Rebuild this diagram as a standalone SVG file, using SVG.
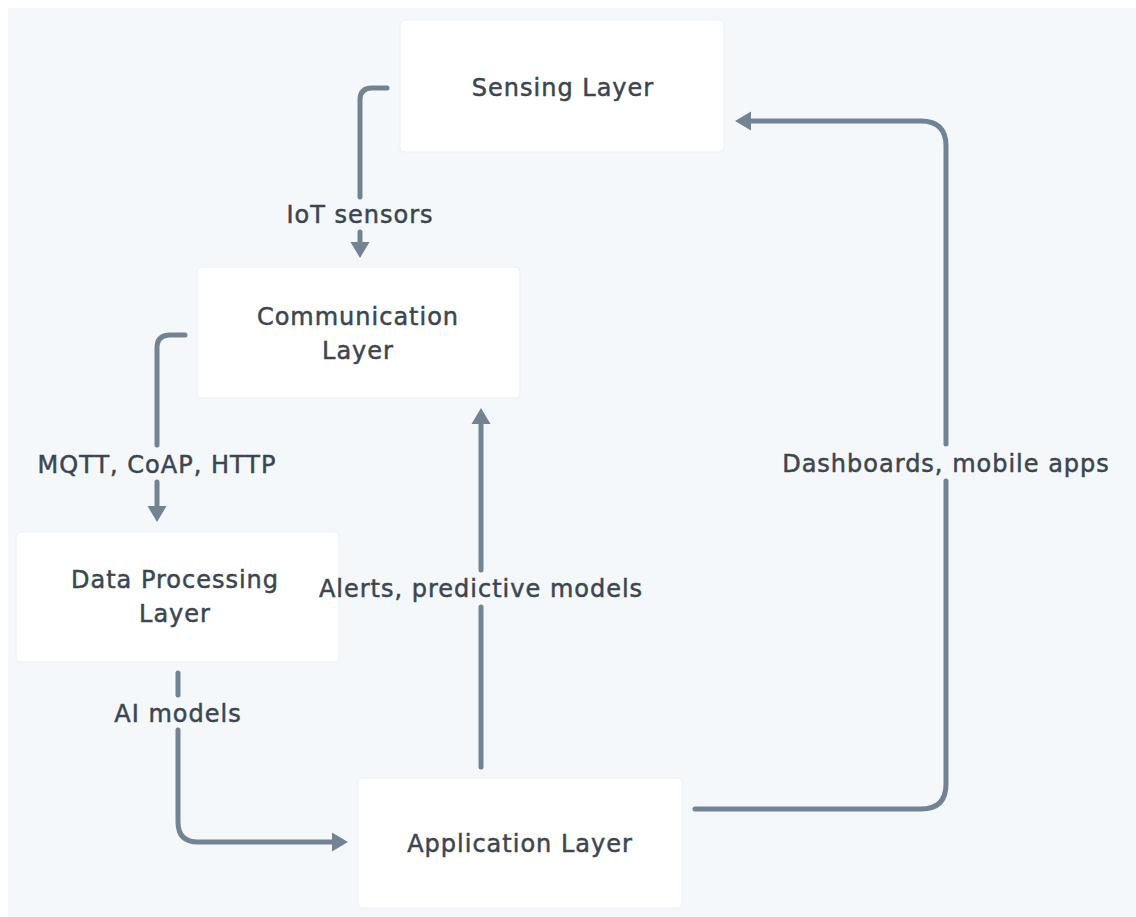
<svg xmlns="http://www.w3.org/2000/svg" width="1136" height="917" viewBox="0 0 1136 917">
<style>
.node rect{fill:#ffffff;stroke:#edf0f3;stroke-width:1}
text{font-family:"DejaVu Sans","Liberation Sans",sans-serif;font-size:24px;letter-spacing:1px;fill:#3b4651;text-anchor:middle;stroke:#3b4651;stroke-width:0.5}
.edge{fill:none;stroke:#728394;stroke-width:5;stroke-linecap:round;stroke-linejoin:round}
</style>
<defs>
<marker id="ah" markerUnits="userSpaceOnUse" markerWidth="18" markerHeight="20" refX="0" refY="10" orient="auto" overflow="visible">
<path d="M0,0.5 L16,10 L0,19.5 Z" fill="#728394"/>
</marker>
</defs>
<rect x="0" y="0" width="1136" height="917" fill="#ffffff"/>
<rect x="8" y="8" width="1128" height="909" fill="#f5f8fb"/>
<g id="sensing" class="node">
<rect x="400" y="20" width="324" height="132" rx="5"/>
<text x="563" y="96">Sensing Layer</text>
</g>
<g id="communication" class="node">
<rect x="197" y="267" width="323" height="131" rx="5"/>
<text x="358" y="325">Communication</text>
<text x="358" y="359">Layer</text>
</g>
<g id="dataprocessing" class="node">
<rect x="16" y="532" width="323" height="130" rx="5"/>
<text x="175" y="588">Data Processing</text>
<text x="175" y="622">Layer</text>
</g>
<g id="application" class="node">
<rect x="358" y="778" width="324" height="130" rx="5"/>
<text x="520" y="852">Application Layer</text>
</g>
<g id="connectors">
<path class="edge" d="M387,88 H372 Q360,88 360,100 V197"/>
<path class="edge" d="M360,232 V242" marker-end="url(#ah)"/>
<path class="edge" d="M185,335 H170 Q157,335 157,348 V445"/>
<path class="edge" d="M157,482 V506" marker-end="url(#ah)"/>
<path class="edge" d="M178,673 V695"/>
<path class="edge" d="M178,730 V822 Q178,842 198,842 H332" marker-end="url(#ah)"/>
<path class="edge" d="M481,767 V607"/>
<path class="edge" d="M481,570 V424" marker-end="url(#ah)"/>
<path class="edge" d="M695,809 H921 Q946,809 946,784 V481"/>
<path class="edge" d="M946,444 V146 Q946,121 921,121 H751" marker-end="url(#ah)"/>
<text x="360" y="223">IoT sensors</text>
<text x="157" y="473">MQTT, CoAP, HTTP</text>
<text x="178" y="722">AI models</text>
<text x="481" y="597">Alerts, predictive models</text>
<text x="946" y="472">Dashboards, mobile apps</text>
</g>
</svg>
